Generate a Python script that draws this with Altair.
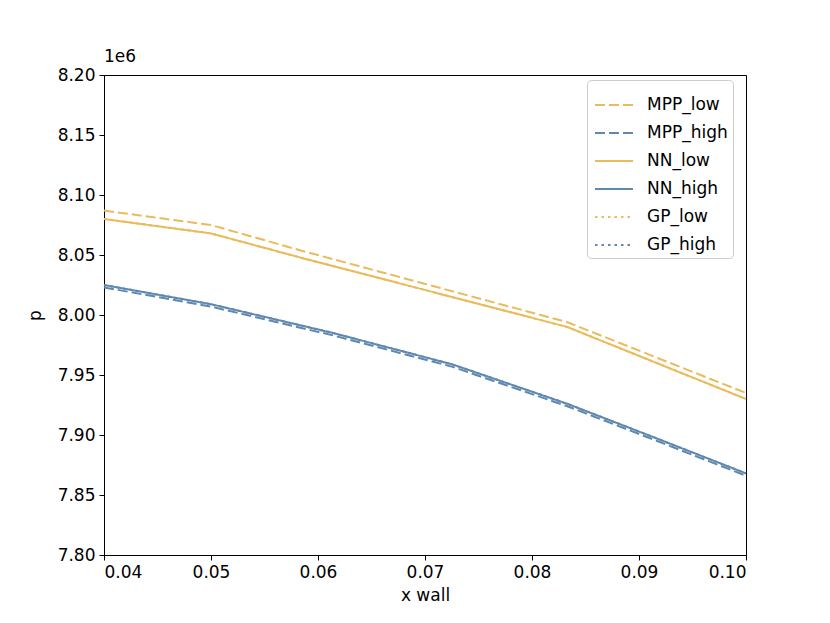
import altair as alt
import pandas as pd

x_low = [0.04, 0.05, 0.0583, 0.0833, 0.10]
mpp_low = [8.087e6, 8.075e6, 8.054e6, 7.994e6, 7.935e6]
nn_low = [8.080e6, 8.068e6, 8.048e6, 7.990e6, 7.930e6]
gp_low = [8.080e6, 8.068e6, 8.048e6, 7.990e6, 7.930e6]

x_high = [0.04, 0.05, 0.0614, 0.0725, 0.0833, 0.0917, 0.10]
mpp_high = [8.023e6, 8.007e6, 7.983e6, 7.957e6, 7.924e6, 7.895e6, 7.866e6]
nn_high = [8.025e6, 8.009e6, 7.985e6, 7.959e6, 7.926e6, 7.897e6, 7.868e6]
gp_high = [8.025e6, 8.009e6, 7.985e6, 7.959e6, 7.926e6, 7.897e6, 7.868e6]

names = ["MPP_low", "MPP_high", "NN_low", "NN_high", "GP_low", "GP_high"]
colors = ["#E9BB5B", "#5E88B0", "#E9BB5B", "#5E88B0", "#E9BB5B", "#5E88B0"]
dashes = [[10, 4], [10, 4], [1, 0], [1, 0], [2.5, 4], [2.5, 4]]

series = {
    "MPP_low": (x_low, mpp_low), "MPP_high": (x_high, mpp_high),
    "NN_low": (x_low, nn_low), "NN_high": (x_high, nn_high),
    "GP_low": (x_low, gp_low), "GP_high": (x_high, gp_high),
}
rows = []
for i, n in enumerate(names):
    xs, ys = series[n]
    for xv, yv in zip(xs, ys):
        rows.append({"xw": xv, "p": yv, "series": n})
df = pd.DataFrame(rows)

color = alt.Color("series:N", scale=alt.Scale(domain=names, range=colors),
                  legend=alt.Legend(title=None, orient="none", legendX=483, legendY=5,
                                    symbolType="stroke", symbolSize=1444, symbolStrokeWidth=2,
                                    labelFontSize=17, labelFont="DejaVu Sans", labelColor="black",
                                    rowPadding=0, padding=5, symbolOffset=2,
                                    strokeColor="#cccccc", cornerRadius=4,
                                    fillColor="white", labelOffset=13))
dash = alt.StrokeDash("series:N", scale=alt.Scale(domain=names, range=dashes), legend=alt.Legend(title=None))

base = alt.Chart(df).mark_line(strokeWidth=2).encode(
    x=alt.X("xw:Q", scale=alt.Scale(domain=[0.04, 0.10], nice=False),
            axis=alt.Axis(title="x wall", values=[0.04, 0.05, 0.06, 0.07, 0.08, 0.09, 0.10], format=".2f")),
    y=alt.Y("p:Q", scale=alt.Scale(domain=[7.8e6, 8.2e6], nice=False, zero=False),
            axis=alt.Axis(title="p", values=[7.8e6 + 0.05e6 * k for k in range(9)],
                          labelExpr="format(datum.value/1000000, '.2f')")),
    color=color,
    strokeDash=dash,
    detail="series:N",
)

layers = [base.transform_filter(alt.FieldOneOfPredicate(field="series", oneOf=[a, b]))
          for a, b in [("MPP_low", "MPP_high"), ("NN_low", "NN_high"), ("GP_low", "GP_high")]]

chart = alt.layer(*layers).properties(
    width=642, height=480,
    title=alt.TitleParams("1e6", anchor="start", frame="group", fontSize=17, fontWeight="normal",
                          font="DejaVu Sans", color="black", offset=0),
    autosize=alt.AutoSizeParams(type="none"),
    padding={"left": 96, "top": 67, "right": 60, "bottom": 52},
).configure_view(stroke="black", strokeWidth=1).configure_axis(
    grid=False, domainColor="black", tickColor="black", tickSize=5,
    labelFont="DejaVu Sans", labelFontSize=17, labelColor="black", labelPadding=4,
    titleFont="DejaVu Sans", titleFontSize=17, titleFontWeight="normal", titleColor="black",
).configure_axisY(titlePadding=13).configure_axisX(titlePadding=7)

chart.save("out.html", embed_options={"renderer": "svg", "actions": False})
